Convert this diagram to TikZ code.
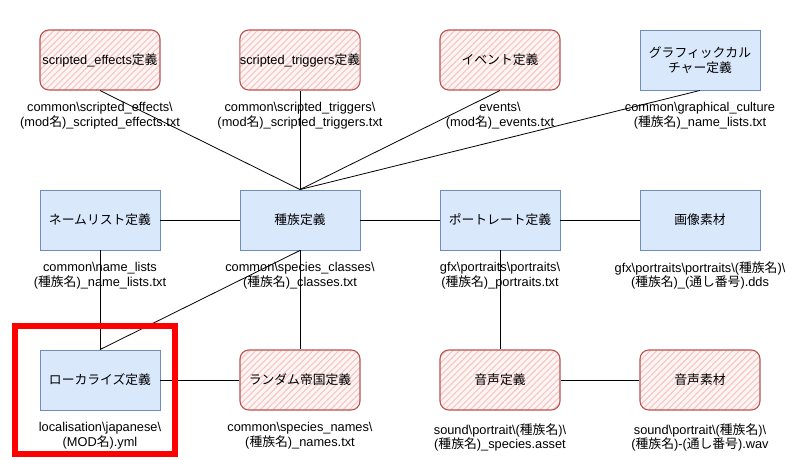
\documentclass[tikz,border=0pt]{standalone}
\usepackage{fontspec}
\setmainfont{Liberation Sans}
\newfontfamily\cjk{Noto Sans CJK JP}
\newcommand\jp[1]{{\cjk #1}}
\newcommand\bs{\textbackslash}
\usetikzlibrary{patterns.meta}
\definecolor{bluefill}{HTML}{DAE8FC}
\definecolor{bluedraw}{HTML}{6C8EBF}
\definecolor{reddraw}{HTML}{B85450}
\definecolor{redhatch}{HTML}{F5C6C4}
\definecolor{redbg}{HTML}{FDF4F4}
\definecolor{hilite}{HTML}{FF0000}
\tikzset{
  bluebox/.style={draw=bluedraw, fill=bluefill, line width=0.9pt, minimum width=120pt, minimum height=60pt, inner sep=0pt, align=center, font=\fontsize{12.8}{15}\selectfont},
  redbox/.style={draw=reddraw, line width=1.1pt, rounded corners=9pt, preaction={fill=redbg}, pattern={Lines[angle=45,distance=4.5pt,line width=1.1pt]}, pattern color=redhatch, minimum width=120pt, minimum height=60pt, inner sep=0pt, align=center, font=\fontsize{12.8}{15}\selectfont},
  lbl/.style={align=center, inner sep=0pt, font=\fontsize{12.8}{14.5}\selectfont},
  conn/.style={draw=black, line width=0.8pt}
}
\begin{document}
\begin{tikzpicture}[x=1pt, y=-1pt]
\useasboundingbox (0,0) rectangle (800,460);
% boxes
\node[redbox] (se) at (100,60) {scripted\_effects\jp{定義}};
\node[redbox] (st) at (300,60) {scripted\_triggers\jp{定義}};
\node[redbox] (ev) at (500,60) {\jp{イベント定義}};
\node[bluebox] (gc) at (700,60) {\jp{グラフィックカル}\\\jp{チャー定義}};
\node[bluebox] (nl) at (100,220) {\jp{ネームリスト定義}};
\node[bluebox] (sp) at (300,220) {\jp{種族定義}};
\node[bluebox] (pt) at (500,220) {\jp{ポートレート定義}};
\node[bluebox] (im) at (700,220) {\jp{画像素材}};
\node[bluebox] (lo) at (100,380) {\jp{ローカライズ定義}};
\node[redbox] (rn) at (300,380) {\jp{ランダム帝国定義}};
\node[redbox] (sd) at (500,380) {\jp{音声定義}};
\node[redbox] (sm) at (700,380) {\jp{音声素材}};
% labels
\node[lbl] (lse) at (100,115.5) {common\bs scripted\_effects\bs\\(mod\jp{名})\_scripted\_effects.txt};
\node[lbl] (lst) at (300,115.5) {common\bs scripted\_triggers\bs\\(mod\jp{名})\_scripted\_triggers.txt};
\node[lbl] (lev) at (500,115.5) {events\bs\\(mod\jp{名})\_events.txt};
\node[lbl] (lgc) at (700,115.5) {common\bs graphical\_culture\\(\jp{種族名})\_name\_lists.txt};
\node[lbl] (lnl) at (100,275.5) {common\bs name\_lists\\(\jp{種族名})\_name\_lists.txt};
\node[lbl] (lsp) at (300,275.5) {common\bs species\_classes\bs\\(\jp{種族名})\_classes.txt};
\node[lbl] (lpt) at (500,275.5) {gfx\bs portraits\bs portraits\bs\\(\jp{種族名})\_portraits.txt};
\node[lbl] (lim) at (700,275.5) {gfx\bs portraits\bs portraits\bs(\jp{種族名})\bs\\(\jp{種族名})\_(\jp{通し番号}).dds};
\node[lbl] (llo) at (100,435.5) {localisation\bs japanese\bs\\(MOD\jp{名}).yml};
\node[lbl] (lrn) at (300,435.5) {common\bs species\_names\bs\\(\jp{種族名})\_names.txt};
\node[lbl] (lsd) at (500,437.5) {sound\bs portrait\bs(\jp{種族名})\bs\\(\jp{種族名})\_species.asset};
\node[lbl] (lsm) at (700,437.5) {sound\bs portrait\bs(\jp{種族名})\bs\\(\jp{種族名})-(\jp{通し番号}).wav};
% connectors
\draw[conn] (se.south) -- (sp.north);
\draw[conn] (st.south) -- (sp.north);
\draw[conn] (ev.south) -- (sp.north);
\draw[conn] (gc.south) -- (sp.north);
\draw[conn] (nl.east) -- (sp.west);
\draw[conn] (sp.east) -- (pt.west);
\draw[conn] (pt.east) -- (im.west);
\draw[conn] (nl.south) -- (lo.north);
\draw[conn] (sp.south) -- (rn.north);
\draw[conn] (sp.south) -- (lo.north);
\draw[conn] (pt.south) -- (sd.north);
\draw[conn] (lo.east) -- (rn.west);
\draw[conn] (sd.east) -- (sm.west);
% highlight
\node[draw=hilite, line width=6pt, minimum width=160pt, minimum height=128pt, inner sep=0pt] (hl) at (95,390) {};
\end{tikzpicture}
\end{document}
